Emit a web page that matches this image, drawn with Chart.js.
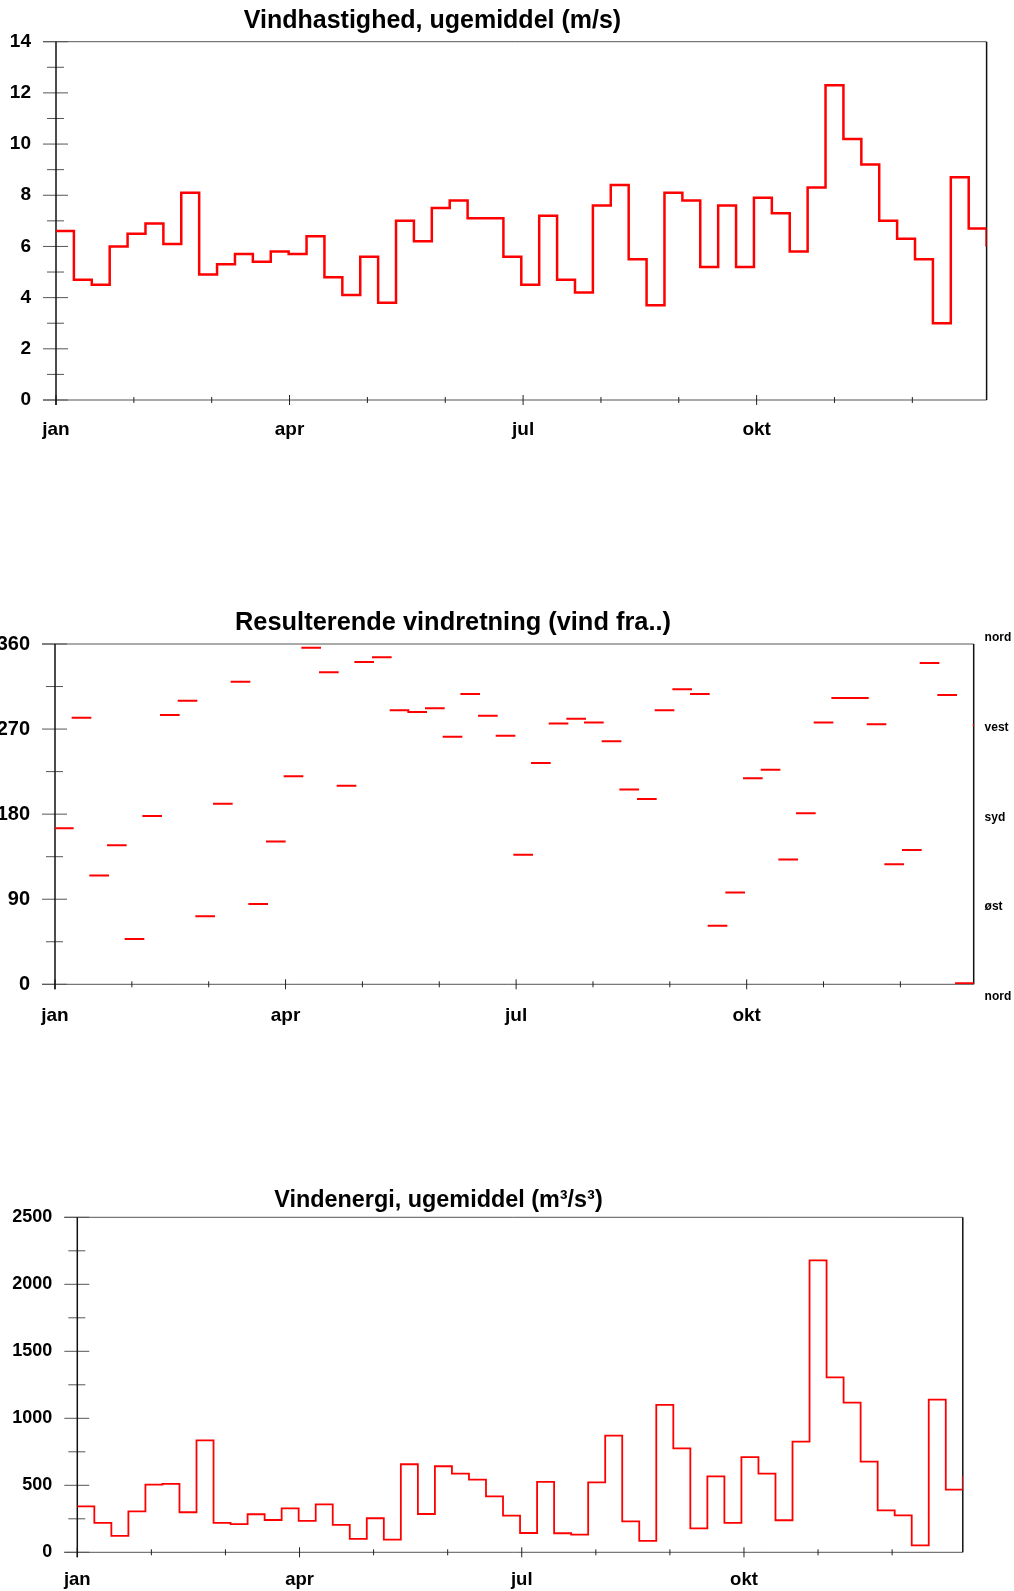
<!DOCTYPE html>
<html>
<head>
<meta charset="utf-8">
<script src="https://cdn.jsdelivr.net/npm/chart.js@4/dist/chart.umd.min.js"></script>
<style>
body { margin: 0; background: #fff; }
#page { position: relative; width: 1014px; height: 1591px; overflow: hidden; }
canvas { position: absolute; left: 0; }
.title { position: absolute; width: 700px; text-align: center; white-space: nowrap;
  font-family: 'Liberation Sans', Arial, sans-serif; font-weight: bold; color: #000; line-height: 1; }
</style>
</head>
<body>
<div id="page">
  <canvas id="speedChart" width="1014" height="445" style="top:0px"></canvas>
  <canvas id="dirChart" width="1014" height="440" style="top:600px"></canvas>
  <canvas id="energyChart" width="1014" height="421" style="top:1170px"></canvas>
  <div class="title" style="left:82.5px; top:7px; font-size:25px;">Vindhastighed, ugemiddel (m/s)</div>
  <div class="title" style="left:103px; top:609px; font-size:25.4px;">Resulterende vindretning (vind fra..)</div>
  <div class="title" style="left:88.5px; top:1188px; font-size:23.4px;">Vindenergi, ugemiddel (m³/s³)</div>
</div>
<script>
// weekly values, week 1 .. week 52 plus the short week 53 at the end of the year
var speed = [6.6, 4.7, 4.5, 6.0, 6.5, 6.9, 6.1, 8.1, 4.9, 5.3, 5.7, 5.4, 5.8, 5.7, 6.4, 4.8, 4.1, 5.6, 3.8, 7.0,
  6.2, 7.5, 7.8, 7.1, 7.1, 5.6, 4.5, 7.2, 4.7, 4.2, 7.6, 8.4, 5.5, 3.7, 8.1, 7.8, 5.2, 7.6, 5.2, 7.9,
  7.3, 5.8, 8.3, 12.3, 10.2, 9.2, 7.0, 6.3, 5.5, 3.0, 8.7, 6.7, 6.0];
var direction = [165, 282, 115, 147, 48, 178, 285, 300, 72, 191, 320, 85, 151, 220, 356, 330, 210, 341, 346, 290,
  288, 292, 262, 307, 284, 263, 137, 234, 276, 281, 277, 257, 206, 196, 290, 312, 307, 62, 97, 218,
  227, 132, 181, 277, 303, 303, 275, 127, 142, 340, 306, 1, 274];
var energy = [343, 219, 122, 306, 505, 510, 299, 836, 219, 211, 284, 241, 328, 234, 358, 204, 100, 254, 95, 657,
  286, 642, 587, 542, 418, 274, 144, 525, 142, 132, 522, 871, 231, 85, 1100, 776, 179, 567, 219, 711,
  587, 239, 826, 2179, 1306, 1117, 677, 313, 276, 52, 1139, 468, 567];
var monthLabels = ['jan', '', '', 'apr', '', '', 'jul', '', '', 'okt', '', ''];
var compassTicks = [0, 90, 180, 270, 360];
var compassLabels = ['nord', 'øst', 'syd', 'vest', 'nord'];

var FONT = "'Liberation Sans', Arial, sans-serif";
var monthStep = 4.35; // weeks per month tick on the original axis

function line(ctx, x1, y1, x2, y2) {
  ctx.beginPath();
  ctx.moveTo(x1, y1);
  ctx.lineTo(x2, y2);
  ctx.stroke();
}

// frame + tick marks that cross the axes like in the original plot
function axisFrame(minorStep, majorStep) {
  return {
    id: 'axisFrame',
    beforeDatasetsDraw: function (chart) {
      var ctx = chart.ctx, a = chart.chartArea;
      var ys = chart.scales.y, xs = chart.scales.x;
      ctx.save();
      ctx.lineWidth = 1;
      ctx.strokeStyle = '#555';
      line(ctx, a.left - 13, a.top, a.right, a.top);
      line(ctx, a.left - 13, a.bottom, a.right, a.bottom);
      for (var v = ys.min; v <= ys.max + 1e-9; v += minorStep) {
        var py = ys.getPixelForValue(v);
        var major = Math.abs(v / majorStep - Math.round(v / majorStep)) < 1e-6;
        line(ctx, a.left - (major ? 13 : 9), py, a.left + (major ? 12 : 8), py);
      }
      ctx.strokeStyle = '#222';
      xs.ticks.forEach(function (t, i) {
        var px = xs.getPixelForValue(t.value);
        var len = i % 3 === 0 ? 5 : 3;
        line(ctx, px, a.bottom - len, px, a.bottom + len);
      });
      ctx.strokeStyle = '#111';
      ctx.lineWidth = 1.5;
      line(ctx, a.left, a.top, a.left, a.bottom + 5);
      line(ctx, a.right, a.top, a.right, a.bottom);
      ctx.restore();
    }
  };
}

function stepPoints(vals) {
  var pts = vals.map(function (v, i) { return { x: i, y: v }; });
  pts.push({ x: vals.length, y: vals[vals.length - 1] });
  return pts;
}

function dashPoints(vals) {
  var pts = [];
  vals.forEach(function (v, i) {
    pts.push({ x: i, y: v });
    pts.push({ x: i + 1, y: v });
    pts.push({ x: i + 1, y: null });
  });
  return pts;
}

function xAxis(pad, size) {
  return {
    type: 'linear', min: 0, max: 52,
    afterBuildTicks: function (s) {
      s.ticks = monthLabels.map(function (m, i) { return { value: i * monthStep }; });
    },
    afterFit: function (s) {
      s.height = s.chart.height - s.chart.options.plotBottom;
      s.paddingLeft = 0;
      s.paddingRight = 0;
    },
    grid: { display: false, drawTicks: false },
    border: { display: false },
    ticks: {
      autoSkip: false, maxRotation: 0, padding: pad, color: '#000',
      font: { family: FONT, size: size, weight: 'bold' },
      callback: function (v, i) { return monthLabels[i]; }
    }
  };
}

function yAxis(min, max, step, width, size) {
  return {
    min: min, max: max,
    afterFit: function (s) { s.width = width; },
    grid: { display: false, drawTicks: false },
    border: { display: false },
    ticks: {
      stepSize: step, padding: 25, color: '#000', font: { family: FONT, size: size, weight: 'bold' },
      callback: function (v) { return String(v); }
    }
  };
}

var common = {
  responsive: false,
  animation: false,
  events: [],
  plugins: { legend: { display: false }, tooltip: { enabled: false } }
};

function opts(extra) {
  return Object.assign({}, common, extra);
}

new Chart(document.getElementById('speedChart'), {
  type: 'line',
  data: {
    datasets: [{
      data: stepPoints(speed), stepped: 'before', borderColor: '#ff0000', borderWidth: 2.5,
      pointRadius: 0, fill: false
    }]
  },
  options: opts({
    plotBottom: 400,
    layout: { autoPadding: false, padding: { top: 41.7, right: 27.4, left: 0, bottom: 0 } },
    scales: { x: xAxis(18.6, 19), y: yAxis(0, 14, 2, 56, 19) }
  }),
  plugins: [axisFrame(1, 2)]
});

// compass names on the right sit on their own, slightly wider spacing
var dirY2 = {
  position: 'right', min: 12.4, max: 353.7,
  afterBuildTicks: function (s) {
    s.ticks = compassTicks.map(function (v) { return { value: v }; });
  },
  afterFit: function (s) { s.width = 40.3; },
  grid: { display: false, drawTicks: false },
  border: { display: false },
  ticks: {
    autoSkip: false, padding: 10.9, color: '#000',
    font: { family: FONT, size: 12, weight: 'bold' },
    callback: function (v, i) { return compassLabels[i]; }
  }
};

new Chart(document.getElementById('dirChart'), {
  type: 'line',
  data: {
    datasets: [{
      data: dashPoints(direction), borderColor: '#ff0000', borderWidth: 2, borderCapStyle: 'square',
      pointRadius: 0, fill: false, spanGaps: false
    }]
  },
  options: opts({
    plotBottom: 384.3,
    layout: { autoPadding: false, padding: { top: 44, right: 0, left: 0, bottom: 0 } },
    scales: { x: xAxis(19.6, 19), y: yAxis(0, 360, 90, 55, 20), y2: dirY2 }
  }),
  plugins: [axisFrame(45, 90)]
});

new Chart(document.getElementById('energyChart'), {
  type: 'line',
  data: {
    datasets: [{
      data: stepPoints(energy), stepped: 'before', borderColor: '#ff0000', borderWidth: 1.8,
      pointRadius: 0, fill: false
    }]
  },
  options: opts({
    plotBottom: 382.3,
    layout: { autoPadding: false, padding: { top: 47.3, right: 51.2, left: 0, bottom: 0 } },
    scales: { x: xAxis(16.9, 18.5), y: yAxis(0, 2500, 500, 77.3, 18) }
  }),
  plugins: [axisFrame(250, 500)]
});
</script>
</body>
</html>
